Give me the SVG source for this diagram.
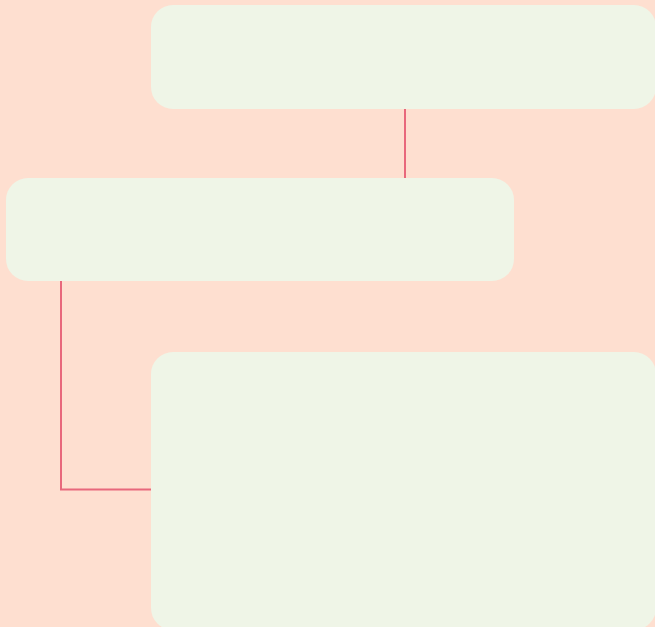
<svg xmlns="http://www.w3.org/2000/svg" width="655" height="627" viewBox="0 0 655 627">
<style>
.node{fill:#eff5e7;stroke:none}
.edge{fill:none;stroke:#e8687c;stroke-width:2}
</style>
<rect x="0" y="0" width="655" height="627" fill="#fedfd0"/>
<g id="connectors">
<path class="edge" d="M405,109 V178"/>
<path class="edge" d="M61,281 V489.5 H151"/>
</g>
<g id="node1"><rect class="node" x="151" y="5" width="505" height="104" rx="22"/></g>
<g id="node2"><rect class="node" x="6" y="178" width="508" height="103" rx="22"/></g>
<g id="node3"><rect class="node" x="151" y="352" width="505" height="278" rx="22"/></g>
</svg>
